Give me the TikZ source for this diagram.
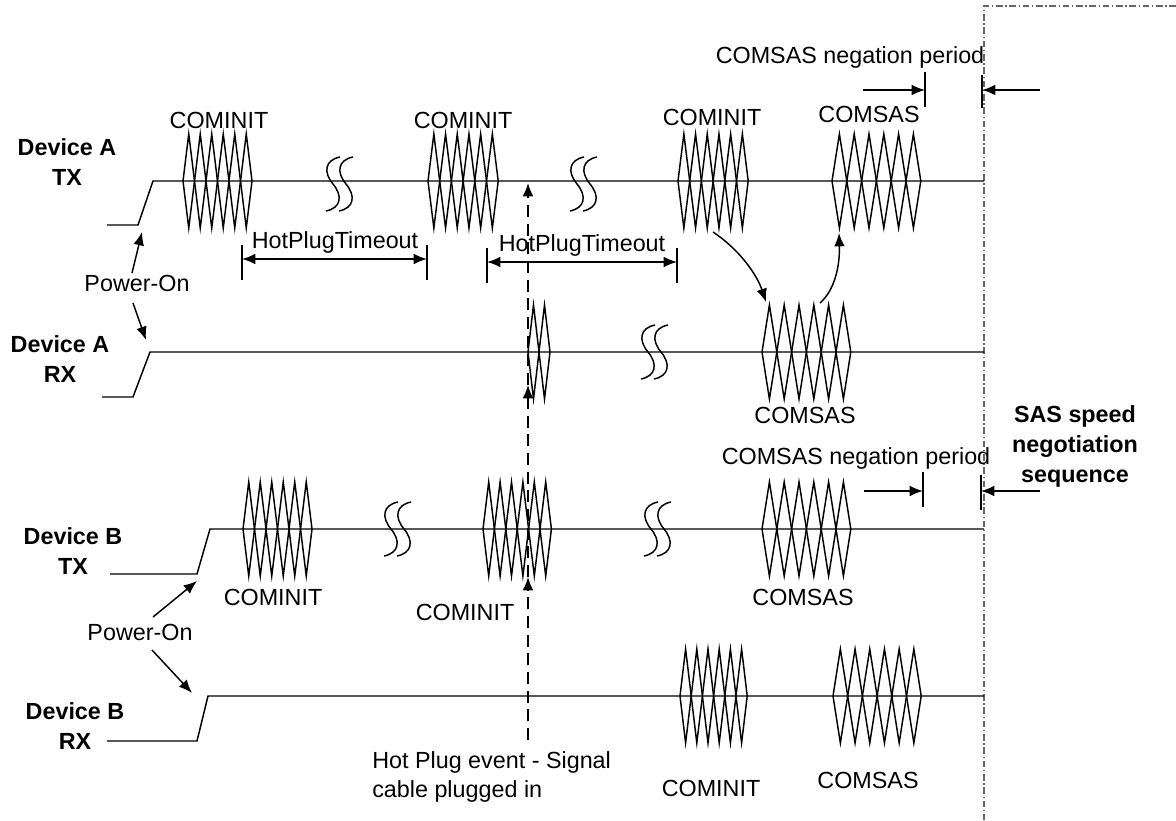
\documentclass[tikz,border=0pt]{standalone}
\usepackage{fontspec}
\setmainfont{Liberation Sans}
\usetikzlibrary{arrows.meta}
\begin{document}
\begin{tikzpicture}[x=0.75pt,y=-0.75pt,
  sig/.style={line width=1.1pt, line join=miter},
  arr/.style={line width=1.1pt, -{Latex[length=10pt,width=8pt]}},
  darr/.style={line width=1.1pt, {Latex[length=10pt,width=8pt]}-{Latex[length=10pt,width=8pt]}},
  hotplug/.style={line width=1.1pt, dash pattern=on 9pt off 5pt, -{Latex[length=10pt,width=8pt]}},
  bound/.style={black!60, line width=0.8pt, dash pattern=on 5pt off 2pt on 1pt off 2pt},
  lbl/.style={font=\fontsize{17.5}{21}\selectfont, inner sep=0pt},
  dev/.style={font=\bfseries\fontsize{17.5}{22.5}\selectfont, align=center, inner sep=0pt},
  pics/burst/.style 2 args={code={
    \foreach \i in {1,...,#2}{
      \draw[sig] ({(\i-1)*#1},0) -- ({(\i-0.5)*#1},-47) -- ({\i*#1},0) -- ({(\i-0.5)*#1},47) -- cycle;
    }
  }},
  pics/brk/.style={code={
    \draw[sig] (7,-27) .. controls (-8,-24) and (-10,-12) .. (0,0) .. controls (10,12) and (8,24) .. (-7,27);
    \draw[sig] (20,-27) .. controls (5,-24) and (3,-12) .. (13,0) .. controls (23,12) and (21,24) .. (6,27);
  }}
]
\useasboundingbox (0,0) rectangle (1176,820);

% boundary of SAS speed negotiation sequence
\draw[bound] (1176,6) -- (984,6) -- (984,820);

% ---- signal lines ----
\draw[sig] (107,225) -- (138,225) -- (153,181) -- (984,181);
\draw[sig] (102,397) -- (133,397) -- (150,352) -- (984,352);
\draw[sig] (110,574) -- (197,574) -- (210,529) -- (984,529);
\draw[sig] (107,741) -- (197,741) -- (208,696) -- (984,696);

% ---- bursts ----
\pic at (183,181) {burst={11.5}{6}};
\pic at (428,181) {burst={11.7}{6}};
\pic at (678,181) {burst={11.7}{6}};
\pic at (832,181) {burst={14.8}{6}};
\pic at (528,352) {burst={11}{2}};
\pic at (762,352) {burst={14.8}{6}};
\pic at (243,529) {burst={11.5}{6}};
\pic at (483,529) {burst={11.4}{6}};
\pic at (762,529) {burst={14.8}{6}};
\pic at (680,696) {burst={11.2}{6}};
\pic at (833,696) {burst={14.7}{6}};

% ---- breaks ----
\pic at (333,184) {brk};
\pic at (577,184) {brk};
\pic at (648,352) {brk};
\pic at (391,529) {brk};
\pic at (651,529) {brk};

% ---- labels ----
\node[dev] (dat) at (67,162) {Device A\\TX};
\node[dev] (dar) at (60,359) {Device A\\RX};
\node[dev] (dbt) at (73,551) {Device B\\TX};
\node[dev] (dbr) at (75,726) {Device B\\RX};
\node[dev] (sas) at (1075,446) {SAS speed\\negotiation\\sequence};

\node[lbl] (ci1) at (219,120) {COMINIT};
\node[lbl] (ci2) at (463,120) {COMINIT};
\node[lbl] (ci3) at (712,117) {COMINIT};
\node[lbl] (cs1) at (869,114) {COMSAS};
\node[lbl] (neg1) at (850,57) {COMSAS negation period};
\node[lbl] (hpt1) at (335,242) {HotPlugTimeout};
\node[lbl] (hpt2) at (582,245) {HotPlugTimeout};
\node[lbl] (pon1) at (137,283) {Power-On};
\node[lbl] (cs2) at (805,415) {COMSAS};
\node[lbl] (neg2) at (856,458) {COMSAS negation period};
\node[lbl] (ci4) at (273,597) {COMINIT};
\node[lbl] (ci5) at (465,612) {COMINIT};
\node[lbl] (cs3) at (803,597) {COMSAS};
\node[lbl] (pon2) at (140,632) {Power-On};
\node[lbl, font=\fontsize{17.5}{22}\selectfont, align=left, anchor=west] (hpe) at (372,777) {Hot Plug event - Signal\\cable plugged in};
\node[lbl] (ci6) at (711,788) {COMINIT};
\node[lbl] (cs4) at (868,780) {COMSAS};

% ---- Power-On arrows ----
\draw[arr] (132,273) -- (142,232);
\draw[arr] (133,303) -- (146,340);
\draw[arr] (153,617) -- (197,581);
\draw[arr] (152,650) -- (192,693);

% ---- HotPlugTimeout ----
\draw[sig] (242,245) -- (242,280);
\draw[sig] (427,245) -- (427,280);
\draw[darr] (242,259) -- (427,259);
\draw[sig] (487,248) -- (487,283);
\draw[sig] (677,248) -- (677,283);
\draw[darr] (487,262) -- (677,262);

% ---- hot plug event dashed arrows ----
\coordinate (hp0) at (528,740);
\coordinate (hp1) at (528,577);
\coordinate (hp2) at (528,385);
\coordinate (hp3) at (528,183);
\draw[hotplug] (hp0) -- (hp1);
\draw[hotplug] (hp1) -- (hp2);
\draw[hotplug] (hp2) -- (hp3);

% ---- COMINIT -> COMSAS handshake ----
\draw[arr] (713,232) .. controls (740,250) and (757,275) .. (766,302);
\draw[arr] (820,303) .. controls (835,290) and (840,265) .. (839,233);

% ---- negation periods ----
\draw[arr] (863,90) -- (925,90);
\draw[sig] (925,72) -- (925,107);
\draw[sig] (982,75) -- (982,108);
\draw[arr] (1040,90) -- (982,90);
\draw[arr] (864,491) -- (923,491);
\draw[sig] (923,472) -- (923,507);
\draw[sig] (981,475) -- (981,510);
\draw[arr] (1040,491) -- (981,491);
\end{tikzpicture}
\end{document}
